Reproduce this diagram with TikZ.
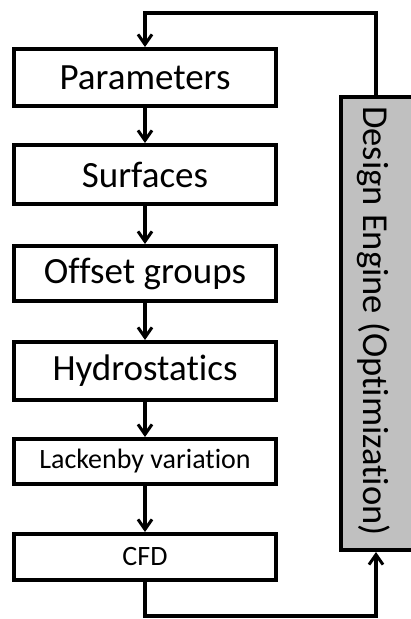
\documentclass[tikz,border=0pt]{standalone}
\usepackage{fontspec}
\setmainfont{Carlito}[Ligatures=NoCommon]
\usetikzlibrary{arrows.meta}
\begin{document}
\begin{tikzpicture}[x=1pt,y=-1pt,
  stepbox/.style={draw=black, line width=4pt, fill=white, minimum width=262pt, inner sep=0pt, font=\fontsize{37}{42}\selectfont},
  smallbox/.style={stepbox, font=\fontsize{28}{32}\selectfont},
  flow/.style={line width=4pt, -{Straight Barb[length=10pt,width=14pt,line width=3pt]}},
  plain/.style={line width=4pt}]
\useasboundingbox (0,0) rectangle (410,619);
\node[stepbox, minimum height=57pt] (par) at (145,77.5) {Parameters};
\node[stepbox, minimum height=59pt] (sur) at (145,174.5) {Surfaces};
\node[stepbox, minimum height=55pt] (off) at (145,273.5) {Offset groups};
\node[stepbox, minimum height=58pt] (hyd) at (145,371) {Hydrostatics};
\node[smallbox, minimum height=45pt] (lac) at (145,461.5) {Lackenby variation};
\node[smallbox, minimum height=46pt] (cfd) at (145,557) {CFD};
\node[draw=black, line width=4pt, fill={rgb,255:red,192;green,192;blue,192}, minimum width=73pt, minimum height=453pt, inner sep=0pt] (des) at (377,323.5) {};
\node[rotate=-90, font=\fontsize{36.5}{40}\selectfont] (destxt) at (374,321) {Design Engine (Optimization)};
\coordinate (tl) at (145,13);
\coordinate (tr) at (376,13);
\coordinate (bl) at (145,616);
\coordinate (br) at (376,616);
\draw[flow] (par) -- (sur);
\draw[flow] (sur) -- (off);
\draw[flow] (off) -- (hyd);
\draw[flow] (hyd) -- (lac);
\draw[flow] (lac) -- (cfd);
\draw[flow] (des.north -| tr) -- (tr) -- (tl) -- (par.north);
\draw[flow] (cfd.south) -- (bl) -- (br) -- (des.south -| br);
\end{tikzpicture}
\end{document}
